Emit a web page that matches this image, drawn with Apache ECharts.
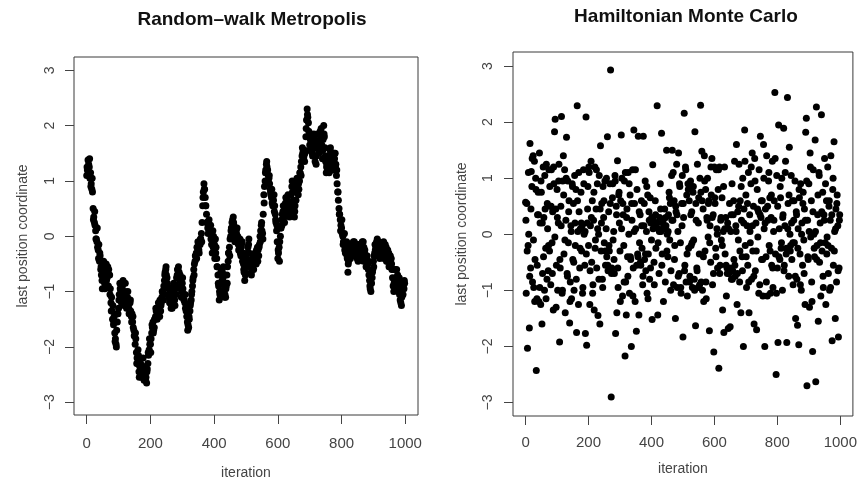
<!DOCTYPE html>
<html>
<head>
<meta charset="utf-8">
<script src="https://cdn.jsdelivr.net/npm/echarts@6/dist/echarts.min.js"></script>
<style>
html,body{margin:0;padding:0;background:#fff;}
#chart{width:860px;height:485px;}
</style>
</head>
<body>
<div id="chart"></div>
<script>
// Titles and axis text
const panelTitles = ["Random\u2013walk Metropolis", "Hamiltonian Monte Carlo"];
const xAxisName = "iteration";
const yAxisName = "last position coordinate";
const xTicks = [0, 200, 400, 600, 800, 1000];
const yTicks = [-3, -2, -1, 0, 1, 2, 3];

// Random-walk Metropolis: last position coordinate at iterations 0,2,4,...
const rwmStep = 2;
const rwmValues = [
  1.10, 1.20, 1.38, 1.30, 1.25, 1.05, 1.15, 0.95, 0.85, 0.80, 0.50, 0.35, 0.25, 0.20, 0.10, -0.05, -0.10, -0.20, -0.25, -0.15,
  -0.45, -0.35, -0.60, -0.70, -0.80, -0.65, -0.55, -0.75, -0.85, -0.60, -0.65, -0.80, -0.75, -0.55, -0.90, -0.70, -0.70, -0.95, -1.20, -1.10,
  -1.35, -1.25, -1.60, -1.45, -1.75, -1.85, -1.95, -1.70, -1.55, -1.40, -1.30, -1.05, -0.85, -0.95, -1.00, -1.15, -0.90, -0.80, -1.15, -1.05,
  -1.00, -1.10, -1.25, -1.15, -1.10, -1.30, -1.30, -1.20, -1.20, -1.35, -1.45, -1.40, -1.55, -1.65, -1.70, -1.80, -1.95, -1.85, -2.10, -2.20,
  -2.30, -2.15, -2.45, -2.35, -2.20, -2.40, -2.55, -2.45, -2.35, -2.50, -2.60, -2.50, -2.45, -2.55, -2.65, -2.40, -2.30, -2.15, -2.05, -1.95,
  -1.95, -1.85, -1.75, -1.65, -1.55, -1.70, -1.65, -1.50, -1.45, -1.35, -1.30, -1.45, -1.40, -1.30, -1.25, -1.15, -1.35, -1.20, -1.10, -1.00,
  -1.05, -0.90, -0.80, -0.65, -0.60, -0.70, -0.75, -0.90, -0.95, -1.10, -1.20, -1.15, -1.05, -1.25, -1.30, -1.10, -0.95, -1.05, -1.15, -0.95,
  -0.90, -0.75, -0.70, -0.60, -0.55, -0.65, -0.80, -0.90, -0.95, -1.00, -0.85, -0.95, -1.05, -1.15, -1.20, -1.30, -1.35, -1.45, -1.55, -1.60,
  -1.65, -1.50, -1.35, -1.20, -1.15, -1.00, -0.90, -0.75, -0.60, -0.50, -0.45, -0.35, -0.30, -0.20, -0.20, -0.30, -0.25, -0.15, -0.15, -0.05,
  0.05, 0.25, 0.55, 0.80, 0.95, 0.85, 0.70, 0.55, 0.40, 0.25, 0.15, 0.20, 0.30, 0.15, 0.05, -0.05, -0.15, -0.30, 0.10, 0.00,
  -0.30, -0.40, -0.05, -0.20, -0.40, -0.55, -0.70, -0.90, -1.15, -1.05, -0.85, -0.70, -0.60, -0.65, -0.75, -0.85, -0.95, -1.05, -1.10, -0.90,
  -0.70, -0.55, -0.45, -0.30, -0.20, -0.05, 0.00, 0.15, 0.25, 0.30, 0.35, 0.20, 0.10, 0.00, -0.05, 0.05, 0.15, 0.00, -0.15, -0.10,
  -0.20, -0.30, -0.35, -0.15, -0.10, -0.30, -0.50, -0.65, -0.80, -0.70, -0.55, -0.40, -0.30, -0.20, -0.15, -0.30, -0.45, -0.55, -0.65, -0.50,
  -0.40, -0.50, -0.60, -0.45, -0.30, -0.40, -0.50, -0.35, -0.20, -0.25, -0.35, -0.15, 0.00, 0.10, 0.20, 0.10, 0.05, 0.40, 0.75, 0.90,
  1.00, 1.20, 1.30, 1.25, 1.20, 1.10, 1.05, 0.95, 0.85, 0.75, 0.70, 0.60, 0.55, 0.65, 0.75, 0.55, 0.40, 0.25, 0.10, -0.10,
  -0.40, -0.30, -0.20, -0.10, 0.00, 0.15, 0.30, 0.40, 0.45, 0.35, 0.35, 0.50, 0.60, 0.55, 0.50, 0.65, 0.75, 0.60, 0.45, 0.55,
  0.60, 0.75, 0.90, 0.80, 0.65, 0.50, 0.35, 0.55, 0.80, 0.95, 1.05, 0.90, 0.75, 0.85, 1.00, 1.15, 1.25, 1.35, 1.45, 1.50,
  1.55, 1.45, 1.35, 1.55, 1.80, 2.10, 2.30, 2.15, 2.05, 1.80, 1.65, 1.75, 1.85, 1.65, 1.50, 1.60, 1.70, 1.80, 1.60, 1.45,
  1.30, 1.60, 1.85, 1.70, 1.55, 1.65, 1.75, 1.85, 1.95, 1.65, 1.40, 1.75, 2.00, 1.80, 1.60, 1.35, 1.15, 1.30, 1.45, 1.35,
  1.30, 1.45, 1.55, 1.35, 1.20, 1.30, 1.40, 1.35, 1.25, 1.40, 1.50, 1.30, 1.10, 0.95, 0.80, 0.65, 0.50, 0.40, 0.30, 0.20,
  0.15, 0.05, 0.00, -0.10, -0.15, -0.25, -0.30, -0.20, -0.10, -0.40, -0.65, -0.45, -0.25, -0.35, -0.40, -0.25, -0.15, -0.20, -0.30, -0.20,
  -0.10, -0.25, -0.35, -0.25, -0.20, -0.35, -0.45, -0.35, -0.25, -0.20, -0.15, -0.25, -0.35, -0.20, -0.10, -0.20, -0.30, -0.40, -0.45, -0.40,
  -0.35, -0.50, -0.60, -0.70, -0.80, -0.95, -1.00, -0.85, -0.75, -0.60, -0.45, -0.35, -0.30, -0.25, -0.20, -0.10, -0.05, -0.15, -0.25, -0.30,
  -0.40, -0.25, -0.15, -0.25, -0.30, -0.20, -0.10, -0.25, -0.35, -0.30, -0.20, -0.35, -0.45, -0.35, -0.30, -0.45, -0.55, -0.45, -0.40, -0.60,
  -0.75, -0.90, -1.00, -0.80, -0.60, -0.75, -0.85, -0.75, -0.70, -0.85, -0.95, -1.05, -1.15, -1.20, -1.25, -1.05, -0.85, -0.90, -0.95, -0.85
];
// Random-walk Metropolis: further draws at iterations 1,5,9,...
const rwmExtraStart = 1;
const rwmExtraStep = 4;
const rwmExtraValues = [
  1.25, 1.15, 1.40, 0.90, 1.05, 0.30, 0.45, -0.05, 0.15, -0.40,
  -0.30, -0.55, -0.95, -0.45, -0.95, -0.50, -0.90, -0.60, -1.05, -1.35,
  -1.50, -1.55, -1.90, -2.00, -1.40, -1.15, -0.95, -1.20, -0.85, -1.25,
  -0.85, -1.30, -1.00, -1.40, -1.15, -1.55, -1.45, -1.80, -1.75, -2.30,
  -2.05, -2.55, -2.30, -2.40, -2.20, -2.40, -2.60, -2.45, -2.10, -1.85,
  -2.10, -1.60, -1.75, -1.50, -1.30, -1.50, -1.20, -1.45, -1.25, -1.00,
  -1.15, -0.70, -0.55, -0.85, -1.05, -1.05, -1.30, -1.15, -0.85, -1.25,
  -1.05, -0.60, -0.75, -0.70, -1.10, -0.75, -1.15, -1.05, -1.25, -1.70,
  -1.45, -1.25, -1.05, -0.80, -0.70, -0.35, -0.40, -0.10, -0.30, -0.05,
  -0.10, 0.70, 0.85, 0.55, 0.25, 0.05, 0.15, 0.20, -0.05, -0.20,
  -0.15, -0.30, -0.55, -0.85, -1.00, -0.65, -0.80, -0.55, -1.10, -0.95,
  -0.85, -0.30, -0.35, 0.10, 0.15, 0.25, -0.10, 0.10, -0.05, -0.25,
  -0.05, -0.20, -0.45, -0.60, -0.65, -0.40, -0.45, -0.05, -0.55, -0.70,
  -0.55, -0.35, -0.45, -0.25, -0.45, -0.20, -0.10, 0.25, -0.05, 0.60,
  1.15, 1.35, 1.00, 1.10, 0.80, 0.85, 0.65, 0.45, 0.30, 0.20,
  -0.25, -0.45, 0.15, 0.20, 0.55, 0.25, 0.70, 0.40, 0.55, 0.35,
  0.45, 1.00, 0.50, 0.45, 0.65, 0.85, 0.95, 1.15, 1.10, 1.60,
  1.40, 1.50, 1.95, 2.20, 1.90, 1.55, 1.70, 1.45, 1.85, 1.35,
  1.45, 1.70, 1.50, 1.90, 1.75, 1.55, 1.85, 1.45, 1.25, 1.20,
  1.15, 1.60, 1.30, 1.20, 1.50, 1.25, 1.20, 0.80, 0.40, 0.10,
  0.30, -0.15, 0.05, -0.20, -0.35, -0.50, -0.15, -0.25, -0.35, -0.10,
  -0.30, -0.15, -0.40, -0.15, -0.40, -0.30, -0.10, -0.45, -0.25, -0.55,
  -0.50, -0.45, -0.90, -0.85, -0.65, -0.55, -0.15, -0.35, -0.20, -0.10,
  -0.20, -0.35, -0.15, -0.40, -0.15, -0.45, -0.25, -0.55, -0.35, -0.50,
  -0.60, -0.85, -0.95, -0.60, -1.00, -0.75, -1.00, -1.10, -1.05, -0.80
];

// Hamiltonian Monte Carlo: last position coordinate at iterations 0,2,4,...
const hmcStep = 2;
const hmcValues = [
  0.57, -1.05, 0.55, -2.03, -0.20, 0.00, -1.67, 1.62, -0.60, 1.12,
  0.85, -0.85, 1.40, -0.95, 1.30, -0.45, 1.00, -2.43, -1.15, 0.35,
  0.75, -1.20, 1.45, 0.20, -1.25, 0.75, -1.60, -0.70, 1.20, 0.30,
  -1.00, 0.45, -0.25, 1.25, -0.80, 0.10, -0.65, 1.15, -0.30, 0.50,
  -0.90, 1.15, -0.15, 0.40, -1.35, 0.90, 1.83, 2.05, 0.45, -0.55,
  0.80, -1.00, 0.20, 1.25, -1.92, -0.60, 0.50, 2.10, -1.05, 0.95,
  1.40, -0.35, 1.15, -1.40, 0.25, 1.73, -0.70, 0.95, -0.15, 0.60,
  -1.58, -0.85, 0.15, -1.15, 0.90, -0.45, 0.55, -1.00, 1.05, -0.20,
  0.80, -1.75, 2.29, 0.05, -1.25, 0.40, -0.60, 0.10, 0.75, -0.30,
  0.15, -0.95, 1.15, 0.00, -0.55, -1.77, 2.09, -1.98, 0.20, 0.85,
  -0.20, 1.10, -1.25, 0.15, 1.30, -0.50, 0.60, -0.90, 0.25, -1.35,
  1.20, -0.10, 0.45, -0.60, 0.90, -1.45, 0.00, 1.05, -1.60, 1.58,
  -0.30, 0.55, -0.80, 0.85, 0.30, -0.15, 0.95, -0.55, 0.10, -0.40,
  1.74, -0.65, 0.40, -0.30, 0.90, 2.93, -2.90, -0.60, 0.65, -0.10,
  0.05, -0.70, 1.05, -1.77, 0.50, -1.40, 1.31, -0.95, 0.70, 0.20,
  -0.30, 0.60, 1.77, 1.00, -1.10, 0.35, -0.20, 0.95, -2.17, -0.85,
  -1.44, 0.45, -0.40, 1.10, 0.00, -1.05, 0.70, -0.45, -2.00, 0.25,
  1.15, -0.60, 1.86, 0.55, -1.20, 0.10, -1.73, 0.80, -0.35, 1.75,
  -1.44, -0.15, 0.35, -0.55, 0.60, -0.25, -0.90, 1.75, 0.15, -0.45,
  0.95, -0.65, 0.05, -1.05, 0.70, -0.35, 0.40, -0.80, 0.65, 0.20,
  -0.10, -1.52, 1.24, 0.25, -0.50, 0.15, 0.60, -0.25, 0.20, 2.29,
  -1.44, 0.10, -0.70, 0.30, 0.90, 0.05, 1.80, -0.35, 0.20, -1.20,
  0.10, 0.45, -0.85, 0.15, 1.50, 0.00, -0.40, 0.35, 0.75, -0.10,
  0.55, -0.65, 1.05, 1.50, 0.25, -0.90, 0.60, -0.20, -1.50, 0.40,
  1.25, -0.95, 0.05, 1.45, -0.70, 0.85, -0.15, -1.05, 0.55, 1.05,
  -1.83, 0.30, 2.16, -0.55, 1.20, -0.85, 0.70, -1.10, 0.90, -0.25,
  0.60, -0.75, 0.95, -0.20, 0.40, -0.95, 0.75, -0.10, -0.80, 1.83,
  -1.63, 0.25, -0.60, 1.25, -0.95, 0.65, -0.35, 1.00, 2.30, -0.85,
  1.48, -1.00, 0.45, -1.20, 1.40, -0.30, 0.80, -1.15, 0.30, 1.00,
  -0.05, 0.60, -1.72, 0.15, -0.50, 0.70, 1.35, -0.90, 0.35, -2.10,
  1.20, 0.55, -0.25, 1.15, 0.10, -0.60, 0.80, -2.39, 1.20, -0.55,
  0.25, -0.10, 0.65, -1.35, 0.05, -1.75, 1.20, -0.35, 0.30, -1.10,
  -0.60, 0.20, -1.68, -0.70, 0.55, -1.65, 0.05, -0.80, 0.90, -0.65,
  0.35, -0.45, 1.30, -0.75, 0.15, 1.60, -1.25, 0.40, -0.10, 1.25,
  -0.85, 0.60, -1.40, 0.25, -0.40, 1.00, -2.00, 0.45, 1.86, -0.20,
  0.70, -0.95, 0.15, -0.55, 1.10, -1.40, 0.35, -0.15, 0.90, -0.80,
  1.45, -0.30, 0.50, -1.60, 1.35, -0.65, 0.20, -1.70, 0.80, -0.05,
  0.40, 1.15, -0.90, 1.75, 0.30, -0.45, 0.60, -1.10, 1.60, 0.10,
  -2.00, 0.45, -0.40, 1.40, -1.10, 0.25, 0.95, -0.20, 0.65, -1.05,
  0.30, -0.55, 1.30, -0.95, 0.05, 0.60, 2.53, -0.35, -2.50, 1.05,
  -0.60, -1.93, 1.95, 0.10, -0.45, 0.65, -0.25, 1.00, -1.00, 0.35,
  1.89, -0.55, 0.15, 1.30, -0.35, -1.93, 2.44, 0.55, -0.75, 1.55,
  0.00, -0.20, 1.05, -0.45, 0.60, -0.90, 0.25, -0.15, 0.95, -1.50,
  0.40, -0.80, -1.62, 0.10, -1.97, 0.65, -0.35, 0.90, -1.00, 0.20,
  -0.55, 0.75, -0.10, 0.45, -1.25, 1.82, 2.07, -2.70, 0.25, -0.45,
  0.90, -1.30, 1.45, -0.05, 0.60, -1.20, -2.09, 1.15, 0.00, -0.40,
  1.68, -2.63, 2.27, -0.20, 0.35, -1.55, 1.10, -0.50, 0.20, -1.10,
  2.13, -0.30, 0.75, -0.95, 0.35, 1.35, -0.15, -1.25, 0.60, -0.05,
  1.20, -0.70, 0.50, -1.00, 0.25, 1.40, -0.25, -1.90, 0.80, -0.55,
  1.65, 0.05, -1.50, 0.45, -0.85, 0.70, 0.15, -1.83, -0.60, 0.35
];
// Hamiltonian Monte Carlo: further draws at iterations 1,5,9,...
const hmcExtraStart = 1;
const hmcExtraStep = 4;
const hmcExtraValues = [
  0.25, -0.30, 1.10, -0.75, 0.45, 1.35, -0.10, -1.20, 0.80, -0.55,
  0.35, -0.95, 0.95, 0.20, -0.40, 1.05, -1.15, 0.55, -0.20, 0.85,
  0.50, -0.70, 1.20, -0.05, -1.30, 0.30, 0.95, -0.45, 0.15, -1.00,
  0.70, -0.10, 1.00, -0.75, 0.40, -1.20, 0.05, 0.85, -0.50, 0.20,
  -0.80, 0.60, 1.10, -0.25, 0.20, -1.05, 0.90, 0.05, -0.35, 0.45,
  1.20, -0.65, 0.30, -1.05, 0.75, -0.25, 1.15, 0.10, -0.80, 0.45,
  0.20, -0.95, 0.60, -0.30, 1.00, -0.55, -0.20, 0.55, -0.70, 0.90,
  -0.45, 0.95, 0.35, -0.60, 0.75, -1.20, 0.10, 0.55, -0.85, 1.10,
  0.30, -0.75, 0.90, -0.40, 0.55, -1.10, 0.05, 1.15, -0.55, -0.40,
  0.40, -0.50, 0.15, -0.75, 0.55, -0.35, 0.85, -1.15, 0.25, -0.60,
  0.30, 0.10, -0.90, 0.35, 0.20, -0.15, 0.05, 0.45, -0.55, 0.25,
  0.15, 0.30, -0.30, 0.05, 0.65, -1.00, 0.25, 1.10, -0.45, 0.50,
  0.35, -0.75, 0.90, -0.95, 0.15, 0.55, -0.65, 1.15, -0.35, 0.80,
  -0.85, 0.35, -0.15, 0.85, -1.00, 0.55, -0.65, 0.20, -0.90, 0.75,
  0.60, -0.40, 0.95, -0.85, 0.25, 0.55, -0.15, 1.20, 0.30, -0.70,
  0.65, -0.40, 0.00, 1.15, -0.70, 0.30, -0.20, 0.85, 0.10, -0.55,
  -0.70, 0.10, -0.60, 0.35, -0.80, 0.60, -0.55, 0.05, -0.70, 0.50,
  -0.30, 0.85, -0.65, 0.20, 1.30, -0.40, 0.55, -0.85, 0.05, 1.20,
  0.15, -0.75, 0.95, -0.30, 0.45, -1.05, 0.35, 0.60, -0.45, 1.00,
  0.20, -0.85, 0.50, 1.10, -0.30, 0.70, -0.60, 0.25, 1.35, -1.05,
  0.50, -0.40, 0.85, -0.15, 0.30, -0.65, 1.10, -0.25, 0.10, 0.70,
  -0.30, 0.20, -0.15, 0.60, -0.75, 0.35, -0.25, 0.80, -0.90, 0.00,
  0.55, -0.70, 0.25, 0.95, -0.40, 0.05, 1.20, -0.85, 0.40, -0.25,
  0.05, -0.45, 0.70, 1.05, -0.15, 0.40, -0.75, 0.25, 0.90, -0.35,
  -0.20, 0.60, -0.95, 0.35, 1.00, -0.30, 0.10, 0.55, -0.65, 0.25
];

const rwmData = rwmValues.map((v, i) => [i * rwmStep, v])
  .concat(rwmExtraValues.map((v, i) => [rwmExtraStart + i * rwmExtraStep, v]));
const hmcData = hmcValues.map((v, i) => [i * hmcStep, v])
  .concat(hmcExtraValues.map((v, i) => [hmcExtraStart + i * hmcExtraStep, v]));

const chart = echarts.init(document.getElementById('chart'), null, {renderer: 'canvas'});
const FONT = '"Liberation Sans", Arial, Helvetica, sans-serif';
const minusFmt = v => String(v).replace('-', '\u2212');

function xAxisFor(gridIndex, nameGap, margin) {
  return {
    type: 'value', gridIndex, min: -40, max: 1040,
    splitLine: {show: false},
    axisLine: {show: false, onZero: false},
    axisTick: {show: true, length: 9, customValues: xTicks, lineStyle: {color: '#444', width: 1}},
    axisLabel: {customValues: xTicks, margin, color: '#444', fontSize: 15, fontFamily: FONT,
      formatter: v => String(v)},
    name: xAxisName, nameLocation: 'middle', nameGap,
    nameTextStyle: {color: '#444', fontSize: 14, fontFamily: FONT}
  };
}
function yAxisFor(gridIndex, min, max, nameGap, margin) {
  return {
    type: 'value', gridIndex, min, max,
    splitLine: {show: false},
    axisLine: {show: false, onZero: false},
    axisTick: {show: true, length: 9, customValues: yTicks, lineStyle: {color: '#444', width: 1}},
    axisLabel: {customValues: yTicks, margin, rotate: 90, color: '#444', fontSize: 14,
      fontFamily: FONT, formatter: minusFmt},
    name: yAxisName, nameLocation: 'middle', nameGap,
    nameTextStyle: {color: '#444', fontSize: 14, fontFamily: FONT}
  };
}

chart.setOption({
  animation: false,
  backgroundColor: '#fff',
  title: [
    {text: panelTitles[0], left: 247, top: 5, textAlign: 'center',
     textStyle: {fontSize: 19, fontWeight: 'bold', color: '#111', fontFamily: FONT}},
    {text: panelTitles[1], left: 681, top: 2, textAlign: 'center',
     textStyle: {fontSize: 19, fontWeight: 'bold', color: '#111', fontFamily: FONT}}
  ],
  grid: [
    {left: 74, top: 57, width: 344, height: 365, show: true, borderColor: '#3a3a3a', borderWidth: 1, backgroundColor: 'transparent'},
    {left: 513, top: 52, width: 341, height: 364, show: true, borderColor: '#3a3a3a', borderWidth: 1, backgroundColor: 'transparent'}
  ],
  xAxis: [xAxisFor(0, 51, 21), xAxisFor(1, 46, 19)],
  yAxis: [yAxisFor(0, -3.23, 3.24, 44, 17), yAxisFor(1, -3.24, 3.25, 44, 18)],
  series: [
    {type: 'scatter', xAxisIndex: 0, yAxisIndex: 0, data: rwmData, symbolSize: 7,
     itemStyle: {color: '#000', opacity: 1}},
    {type: 'scatter', xAxisIndex: 1, yAxisIndex: 1, data: hmcData, symbolSize: 7,
     itemStyle: {color: '#000', opacity: 1}}
  ]
});
</script>
</body>
</html>
